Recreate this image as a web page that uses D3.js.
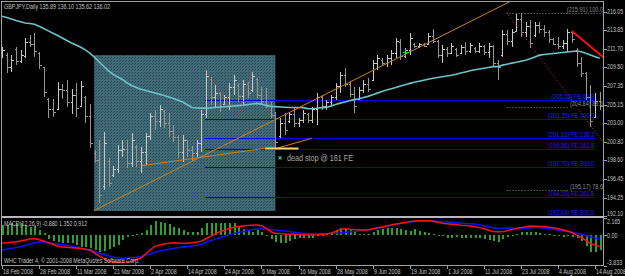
<!DOCTYPE html>
<html>
<head>
<meta charset="utf-8">
<script src="https://cdn.jsdelivr.net/npm/d3@7"></script>
<style>
  html, body { margin: 0; padding: 0; background: #000; }
  svg { display: block; }
  text { font-family: "Liberation Sans", Arial, sans-serif; }
</style>
</head>
<body>
<div id="chart"></div>
<script>
// GBPJPY daily bars, one per trading day from 18 Feb 2008
const opens = [
  211.2, 211.0, 209.6, 211.6, 210.2, 210.8, 212.5, 212.3, 211.2, 209.6,
  205.8, 204.6, 204.6, 207.0, 206.8, 205.5, 206.3, 205.0, 206.0, 203.8,
  199.5, 198.6, 195.6, 198.5, 196.9, 197.6, 199.8, 200.0, 198.3, 200.2,
  198.5, 199.6, 201.5, 203.8, 203.2, 204.4, 203.0, 202.0, 201.4, 199.6,
  201.0, 199.8, 199.5, 200.6, 204.0, 208.2, 206.0, 206.5, 205.2, 206.0,
  207.2, 207.5, 206.2, 207.6, 206.8, 208.2, 206.3, 205.6, 205.0, 203.9,
  201.5, 203.0, 203.2, 204.0, 203.0, 203.4, 204.0, 203.4, 204.6, 206.0,
  205.0, 205.4, 206.0, 207.3, 208.6, 207.6, 206.4, 205.8, 206.8, 207.6,
  208.0, 210.0, 210.4, 210.0, 210.6, 211.2, 212.5, 210.8, 211.5, 212.3,
  212.0, 212.2, 212.2, 213.2, 212.6, 211.0, 211.6, 211.2, 211.6, 211.2,
  211.9, 211.4, 211.8, 211.4, 212.0, 211.3, 212.0, 210.0, 210.9, 213.4,
  212.6, 213.8, 215.2, 213.6, 214.4, 213.3, 214.5, 214.0, 213.6, 212.8,
  212.3, 212.0, 212.4, 213.6, 211.5, 210.0, 208.8, 206.0, 203.7, 205.6
];
const highs = [
  211.9, 211.2, 211.0, 211.9, 211.5, 213.0, 213.3, 213.5, 211.3, 209.6,
  205.9, 205.8, 207.8, 207.6, 208.0, 207.0, 207.7, 207.9, 206.2, 205.2,
  199.8, 201.0, 201.9, 198.9, 198.0, 200.4, 201.0, 201.0, 201.8, 200.4,
  200.2, 201.8, 204.2, 204.5, 205.1, 204.5, 204.2, 202.8, 201.6, 201.6,
  201.0, 200.3, 201.0, 204.5, 209.2, 208.4, 207.5, 206.6, 206.3, 207.7,
  208.6, 207.7, 208.0, 207.8, 209.0, 208.3, 207.2, 207.1, 205.5, 204.3,
  203.6, 204.2, 204.3, 204.8, 203.6, 204.5, 204.2, 204.9, 206.5, 206.3,
  205.7, 206.3, 207.7, 209.0, 209.4, 207.8, 207.2, 207.2, 208.0, 208.3,
  210.4, 211.0, 210.6, 211.0, 211.5, 213.0, 212.8, 211.8, 213.5, 212.4,
  212.4, 212.4, 213.5, 214.0, 212.7, 212.1, 211.9, 212.4, 211.8, 212.1,
  212.5, 212.4, 211.9, 212.4, 212.1, 212.4, 212.1, 210.4, 213.9, 213.9,
  214.0, 215.8, 215.91, 214.8, 215.1, 214.8, 214.8, 214.5, 213.9, 213.0,
  213.1, 212.7, 214.0, 213.7, 211.8, 210.7, 209.0, 207.4, 206.5, 206.6
];
const lows = [
  210.6, 208.9, 209.0, 209.8, 210.0, 210.6, 211.9, 210.7, 209.3, 206.0,
  203.6, 203.7, 204.5, 205.8, 204.9, 204.1, 203.7, 204.9, 203.0, 200.1,
  198.3, 193.6, 195.2, 195.5, 196.7, 197.1, 199.0, 197.7, 197.8, 197.8,
  197.1, 198.1, 201.0, 202.2, 202.5, 202.4, 201.4, 200.8, 198.9, 198.4,
  199.0, 198.5, 199.0, 199.6, 203.6, 205.1, 204.8, 204.3, 205.1, 204.5,
  206.3, 205.5, 205.1, 205.9, 206.6, 205.9, 205.1, 204.8, 203.6, 200.1,
  201.2, 201.6, 203.0, 202.5, 202.5, 203.0, 203.0, 203.0, 202.8, 204.5,
  204.5, 204.9, 205.7, 206.5, 207.2, 206.0, 204.2, 205.7, 206.5, 206.6,
  208.0, 209.2, 209.8, 209.6, 209.8, 210.6, 210.4, 210.6, 211.0, 211.8,
  211.8, 211.9, 212.1, 212.4, 210.6, 210.0, 210.7, 211.2, 210.7, 211.2,
  211.0, 211.2, 211.2, 211.2, 211.0, 210.6, 209.6, 208.0, 210.7, 212.1,
  211.9, 213.7, 213.1, 213.1, 211.8, 213.1, 213.5, 213.1, 212.4, 212.1,
  211.6, 211.6, 211.3, 212.4, 209.6, 208.4, 205.7, 202.5, 203.6, 204.5
];
const closes = [
  211.5, 209.6, 210.4, 210.2, 211.0, 212.5, 212.3, 211.4, 209.8, 206.6,
  204.6, 204.3, 207.0, 206.8, 205.5, 206.3, 204.8, 207.3, 203.8, 200.6,
  198.6, 194.6, 200.7, 196.0, 197.6, 199.8, 200.0, 198.3, 201.0, 198.5,
  199.6, 201.5, 203.8, 203.2, 204.6, 203.0, 202.0, 201.4, 199.6, 201.0,
  199.8, 199.5, 200.6, 204.0, 208.5, 206.0, 206.5, 205.0, 206.0, 207.2,
  208.0, 206.2, 207.6, 206.5, 208.5, 206.3, 205.6, 205.0, 203.9, 200.8,
  203.0, 202.2, 204.0, 203.0, 203.4, 204.2, 203.4, 204.6, 206.0, 205.0,
  205.4, 206.0, 207.3, 208.6, 207.6, 206.4, 205.0, 206.8, 207.6, 207.0,
  210.0, 210.6, 210.0, 210.6, 211.2, 212.6, 210.8, 211.5, 213.0, 212.0,
  212.2, 212.0, 213.2, 212.6, 211.0, 211.6, 211.2, 212.0, 211.0, 211.9,
  211.4, 212.1, 211.4, 212.0, 211.3, 212.0, 210.0, 209.6, 213.4, 212.6,
  213.6, 215.2, 213.6, 214.4, 212.4, 214.5, 214.0, 213.6, 212.8, 212.3,
  212.0, 212.4, 213.6, 212.8, 210.0, 208.8, 206.0, 203.2, 205.6, 205.0
];
// moving average drawn on the price panel
const movingAvg = [
  215.50, 215.35, 215.18, 215.00, 214.85, 214.71, 214.64, 214.55, 214.32, 214.06,
  213.78, 213.51, 213.24, 212.95, 212.65, 212.37, 212.13, 211.87, 211.55, 211.14,
  210.67, 210.14, 209.61, 209.09, 208.68, 208.38, 208.09, 207.68, 207.39, 207.14,
  206.95, 206.80, 206.65, 206.51, 206.36, 206.21, 206.04, 205.87, 205.65, 205.44,
  205.13, 204.81, 204.74, 204.73, 204.73, 204.76, 204.81, 204.86, 204.90, 204.94,
  204.99, 205.03, 205.08, 205.14, 205.22, 205.29, 205.20, 205.07, 204.96, 204.91,
  204.87, 204.84, 204.80, 204.80, 204.81, 204.79, 204.68, 204.66, 204.72, 204.79,
  204.82, 204.99, 205.15, 205.32, 205.46, 205.60, 205.73, 205.83, 205.97, 206.11,
  206.30, 206.49, 206.67, 206.85, 207.00, 207.15, 207.32, 207.47, 207.63, 207.76,
  207.88, 208.00, 208.11, 208.23, 208.32, 208.41, 208.50, 208.59, 208.70, 208.84,
  208.97, 209.11, 209.23, 209.32, 209.41, 209.50, 209.59, 209.59, 209.77, 209.88,
  210.00, 210.10, 210.22, 210.34, 210.51, 210.73, 210.94, 211.02, 211.08, 211.14,
  211.19, 211.25, 211.31, 211.37, 211.43, 211.33, 211.16, 210.96, 210.76, 210.57
];
// MACD sub window
const macdHist = [
  1.22, 1.22, 1.44, 1.5, 1.44, 1.22, 1.0, 1.1, 0.6, 0.2,
  -0.57, -0.75, -0.86, -0.97, -1.06, -0.97, -1.25, -1.49, -1.49, -1.7,
  -1.9, -2.11, -2.0, -1.8, -1.49, -1.25, -0.65, -0.3, -0.05, 0.1,
  0.2, 0.6, 1.22, 1.76, 1.65, 1.5, 1.3, 1.0, 0.8, 0.6,
  0.4, 0.4, 0.4, 0.8, 1.44, 1.5, 1.5, 1.44, 1.5, 1.44,
  1.5, 1.0, 0.7, 0.6, 0.4, 0.6, 0.4, 0.0, -0.57, -0.86,
  -0.97, -0.97, -0.75, -0.57, -0.45, -0.45, -0.45, -0.35, -0.1, 0.0,
  0.1, 0.4, 0.6, 0.8, 0.9, 0.6, 0.4, 0.15, 0.15, 0.15,
  0.4, 0.6, 0.7, 0.8, 0.9, 0.8, 0.7, 0.6, 0.5, 0.7,
  0.5, 0.4, 0.25, 0.15, -0.1, -0.2, -0.35, -0.35, -0.3, -0.35,
  -0.35, -0.45, -0.35, -0.45, -0.55, -0.65, -0.75, -0.86, -0.57, -0.3,
  -0.1, 0.05, 0.3, 0.4, 0.3, 0.3, 0.25, 0.15, 0.15, -0.1,
  -0.2, -0.3, -0.2, -0.3, -0.45, -0.75, -1.4, -2.1, -2.2, -1.9
];
const macdRed = [
  -1.04, -0.98, -0.92, -0.86, -0.76, -0.65, -0.52, -0.45, -0.62, -0.76,
  -0.98, -1.2, -1.41, -1.51, -1.56, -1.6, -1.65, -1.7, -1.8, -1.9,
  -2.29, -2.67, -2.97, -3.28, -3.4, -3.46, -3.46, -3.4, -3.3, -3.09,
  -2.9, -2.4, -1.86, -1.44, -1.27, -1.14, -1.06, -0.99, -1.01, -1.04,
  -1.06, -0.99, -0.91, -0.79, -0.49, -0.19, 0.12, 0.38, 0.58, 0.76,
  0.95, 1.03, 1.1, 1.18, 1.21, 1.23, 1.14, 0.83, 0.38, 0.21,
  0.15, 0.11, 0.08, 0.06, 0.04, 0.01, -0.01, -0.01, 0.01, 0.06,
  0.1, 0.2, 0.41, 0.66, 0.79, 0.7, 0.66, 0.64, 0.61, 0.61,
  0.75, 0.89, 0.98, 1.1, 1.23, 1.35, 1.44, 1.54, 1.65, 1.74,
  1.76, 1.76, 1.76, 1.7, 1.56, 1.46, 1.39, 1.33, 1.28, 1.21,
  1.16, 1.1, 1.04, 0.93, 0.75, 0.58, 0.4, 0.39, 0.39, 0.5,
  0.65, 0.8, 0.9, 1.0, 1.1, 1.08, 1.05, 1.03, 0.95, 0.88,
  0.76, 0.63, 0.48, 0.29, -0.03, -0.33, -0.69, -1.09, -1.28, -1.46
];
const macdBlue = [
  -1.89, -1.8, -1.7, -1.6, -1.48, -1.33, -1.18, -1.03, -0.89, -0.91,
  -0.99, -1.08, -1.16, -1.24, -1.29, -1.4, -1.53, -1.64, -1.79, -1.95,
  -2.12, -2.3, -2.45, -2.62, -2.81, -2.88, -2.92, -2.92, -2.88, -2.81,
  -2.72, -2.56, -2.4, -2.21, -2.06, -1.92, -1.81, -1.71, -1.61, -1.51,
  -1.46, -1.4, -1.31, -1.18, -0.96, -0.75, -0.54, -0.36, -0.19, -0.01,
  0.18, 0.29, 0.4, 0.51, 0.64, 0.74, 0.8, 0.76, 0.66, 0.59,
  0.54, 0.48, 0.4, 0.33, 0.25, 0.19, 0.15, 0.12, 0.1, 0.12,
  0.15, 0.19, 0.21, 0.25, 0.3, 0.38, 0.43, 0.48, 0.54, 0.6,
  0.7, 0.83, 0.94, 1.06, 1.19, 1.3, 1.43, 1.51, 1.59, 1.65,
  1.7, 1.74, 1.76, 1.74, 1.69, 1.64, 1.6, 1.56, 1.51, 1.46,
  1.43, 1.39, 1.35, 1.25, 1.13, 1.0, 0.88, 0.8, 0.81, 0.81,
  0.81, 0.81, 0.81, 0.85, 0.89, 0.93, 0.93, 0.86, 0.78, 0.69,
  0.6, 0.5, 0.4, 0.3, 0.21, 0.08, -0.09, -0.25, -0.4, -0.55
];

// axis labels
const dateLabels = ["18 Feb 2008", "28 Feb 2008", "11 Mar 2008", "21 Mar 2008", "2 Apr 2008",
  "14 Apr 2008", "24 Apr 2008", "6 May 2008", "16 May 2008", "28 May 2008", "9 Jun 2008",
  "19 Jun 2008", "1 Jul 2008", "11 Jul 2008", "23 Jul 2008", "4 Aug 2008", "14 Aug 2008"];
const dateStep = 8; // one label every 8 bars
const priceTicks = ["216.05", "213.85", "211.70", "209.50", "207.35", "205.15",
  "203.00", "200.80", "198.60", "196.45", "194.25", "192.10"];
const macdTicks = ["2.165", "0.00", "-3.833"];

// drawn objects (bar index, price)
const feLevels = [205.52, 203.35, 201.15, 199.86, 197.70, 194.20, 192.04];
const feRatios = ["61.8", "100.0", "138.2", "161.8", "200.0", "261.8", "300.0"];
const feSpan = [43.8, 127.8];
const retLevels = [215.91, 204.84, 195.17];
const retRatios = ["100.0", "88.6", "78.6"];
const retStart = 108.9;
const zoneBox = { i0: 19.9, i1: 59.0, top: 210.94, bottom: 192.69 };
const orangeLines = [
  [[19.9, 192.74], [109.6, 217.2]],
  [[30.15, 197.99], [56.8, 200.03]],
  [[59.3, 200.03], [66.85, 201.2]]
];
const stopSegment = [[56.8, 200.01], [64.0, 200.01]];
const redZigzag = [[44.0, 209.2], [51.0, 203.55], [54.1, 209.2]];
const redTrend = [[122.97, 213.77], [129.8, 210.69]];
const fibDiagonal = [[108.9, 215.91], [129.5, 200.89]];
const greenMark = [87.1, 211.25];
const stopMark = [60.0, 198.9];

const width = 625, height = 276;
const frameL = 1.5, frameR = 603.5, frameT = 1.5, sepY = 215.5, frameB = 265.5;

const svg = d3.select("#chart").append("svg")
  .attr("width", width).attr("height", height);

svg.append("rect").attr("width", width).attr("height", height).attr("fill", "#000");

const x = d3.scaleLinear().domain([0, 129]).range([2, 599.7]);
const y = d3.scaleLinear().domain([192.10, 216.05]).range([216, 11.5]);
const ym = d3.scaleLinear().domain([-3.833, 2.165]).range([265.5, 217.5]);

// small MT4-like text, squeezed horizontally like the screenshot
function label(g, px, py, s, size, color, anchor, sx) {
  return g.append("text")
    .attr("transform", `translate(${px},${py}) scale(${sx || 0.82},1)`)
    .attr("text-anchor", anchor || "start")
    .attr("font-size", size)
    .attr("fill", color)
    .text(s);
}

const defs = svg.append("defs");
defs.append("clipPath").attr("id", "mainClip")
  .append("rect").attr("x", 2).attr("y", 2).attr("width", 601).attr("height", 213);
defs.append("clipPath").attr("id", "macdClip")
  .append("rect").attr("x", 2).attr("y", 217.5).attr("width", 601).attr("height", 48);

const pat = defs.append("pattern").attr("id", "boxFill")
  .attr("width", 3).attr("height", 3).attr("patternUnits", "userSpaceOnUse");
pat.append("rect").attr("width", 3).attr("height", 3).attr("fill", "#416b78");
pat.append("rect").attr("x", 0).attr("y", 0).attr("width", 1).attr("height", 1).attr("fill", "#27444d");
pat.append("rect").attr("x", 2).attr("y", 1).attr("width", 1).attr("height", 1).attr("fill", "#2c4c56");

const main = svg.append("g").attr("clip-path", "url(#mainClip)");

// shaded zone
main.append("rect")
  .attr("x", x(zoneBox.i0)).attr("y", y(zoneBox.top))
  .attr("width", x(zoneBox.i1) - x(zoneBox.i0))
  .attr("height", y(zoneBox.bottom) - y(zoneBox.top))
  .attr("fill", "url(#boxFill)");

// fibo expansion levels
feLevels.forEach(p => {
  const yy = Math.round(y(p)) - 0.5;
  main.append("line")
    .attr("x1", x(feSpan[0])).attr("x2", x(feSpan[1]))
    .attr("y1", yy).attr("y2", yy)
    .attr("stroke", "#0000e8").attr("stroke-width", 1);
});

// fibo retracement dotted levels
retLevels.forEach((p, k) => {
  const yy = Math.round(y(p)) + 0.5;
  main.append("line")
    .attr("x1", x(retStart)).attr("x2", k === 0 ? 603 : x(122.5))
    .attr("y1", yy).attr("y2", yy)
    .attr("stroke", "#8a8a8a").attr("stroke-dasharray", "1,2");
});

// OHLC bars
const bars = main.append("g").attr("shape-rendering", "crispEdges");
opens.forEach((o, i) => {
  const bx = Math.round(x(i)) + 0.5;
  const path = `M${bx},${y(highs[i])}V${y(lows[i])}` +
    `M${bx - 2},${Math.round(y(o)) + 0.5}H${bx}` +
    `M${bx},${Math.round(y(closes[i])) + 0.5}H${bx + 2}`;
  bars.append("path")
    .attr("d", path)
    .attr("fill", "none")
    .attr("stroke", closes[i] >= o ? "#c8c8c8" : "#969696")
    .attr("stroke-width", 1);
});

// moving average
main.append("path")
  .datum(movingAvg)
  .attr("fill", "none")
  .attr("stroke", "#6cc3ca")
  .attr("stroke-width", 1.6)
  .attr("d", d3.line().x((d, i) => x(i)).y(d => y(d)));

// trend lines
const seg = d3.line().x(d => x(d[0])).y(d => y(d[1]));
orangeLines.forEach(l => {
  main.append("path").attr("d", seg(l)).attr("fill", "none")
    .attr("stroke", "#d0801e").attr("stroke-width", 1);
});
main.append("path").attr("d", seg(stopSegment)).attr("fill", "none")
  .attr("stroke", "#ffd27a").attr("stroke-width", 2);
main.append("path").attr("d", seg(redZigzag)).attr("fill", "none")
  .attr("stroke", "#e03030").attr("stroke-width", 1).attr("stroke-dasharray", "1,2");
main.append("path").attr("d", seg(fibDiagonal)).attr("fill", "none")
  .attr("stroke", "#b8306a").attr("stroke-width", 1).attr("stroke-dasharray", "1,2");
main.append("path").attr("d", seg(redTrend)).attr("fill", "none")
  .attr("stroke", "#ff1010").attr("stroke-width", 2);

// markers
const gx = x(greenMark[0]), gy = y(greenMark[1]);
main.append("path")
  .attr("d", `M${gx - 3},${gy}H${gx + 3}M${gx},${gy - 4}V${gy + 4}`)
  .attr("stroke", "#20e020").attr("stroke-width", 1);
const sx = x(stopMark[0]), sy = y(stopMark[1]);
main.append("path")
  .attr("d", `M${sx - 1.5},${sy - 1.5}L${sx + 1.5},${sy + 1.5}M${sx - 1.5},${sy + 1.5}L${sx + 1.5},${sy - 1.5}`)
  .attr("stroke", "#40c0b0").attr("stroke-width", 1.2);
label(main, sx + 7, sy + 3, "dead stop @ 161 FE", 9, "#a8a8a8", "start", 0.8);

// level labels
feLevels.forEach((p, k) => {
  label(main, x(feSpan[1]), Math.round(y(p)) - 2, `(${p.toFixed(2)}) FE ${feRatios[k]}`, 7, "#2020ff", "end");
});
retLevels.forEach((p, k) => {
  label(main, 603, Math.round(y(p)) - 0.8, `(${p.toFixed(2)}) ${retRatios[k]}`, 6.8, "#8a8a8a", "end");
});

// MACD window
const macd = svg.append("g").attr("clip-path", "url(#macdClip)");
macd.append("g").attr("shape-rendering", "crispEdges")
  .selectAll("rect").data(macdHist).enter().append("rect")
  .attr("x", (d, i) => Math.round(x(i)) - 0.5)
  .attr("width", 2)
  .attr("y", d => Math.min(ym(d), ym(0)))
  .attr("height", d => Math.max(1, Math.abs(ym(d) - ym(0))))
  .attr("fill", "#2fa02f");
const macdLine = d3.line().x((d, i) => x(i)).y(d => ym(d));
macd.append("path").datum(macdBlue).attr("d", macdLine)
  .attr("fill", "none").attr("stroke", "#1010ff").attr("stroke-width", 1.5);
macd.append("path").datum(macdRed).attr("d", macdLine)
  .attr("fill", "none").attr("stroke", "#ff1010").attr("stroke-width", 1.5);

// frame
const frame = svg.append("g").attr("shape-rendering", "crispEdges");
frame.append("rect")
  .attr("x", frameL).attr("y", frameT)
  .attr("width", frameR - frameL).attr("height", frameB - frameT)
  .attr("fill", "none").attr("stroke", "#a0a0a0");
frame.append("rect")
  .attr("x", frameL).attr("y", sepY)
  .attr("width", frameR - frameL).attr("height", 2)
  .attr("fill", "#b8b8bc");

// price axis
priceTicks.forEach(t => {
  const yy = Math.round(y(+t)) + 0.5;
  frame.append("line").attr("x1", frameR).attr("x2", frameR + 3)
    .attr("y1", yy).attr("y2", yy).attr("stroke", "#a0a0a0");
  label(svg, 607, Math.min(yy + 1.8, 216), t, 6.5, "#c0c0c0");
});

// MACD axis
const macdOffsets = [5.2, 2.3, -1.2];
macdTicks.forEach((t, k) => {
  const yy = Math.round(ym(+t)) + 0.5;
  frame.append("line").attr("x1", frameR).attr("x2", frameR + 3)
    .attr("y1", yy).attr("y2", yy).attr("stroke", "#a0a0a0");
  label(svg, 607, yy + macdOffsets[k], t, 6.5, "#c0c0c0");
});

// time axis
dateLabels.forEach((d, k) => {
  const tx = Math.round(x(k * dateStep)) + 0.5;
  frame.append("line").attr("x1", tx).attr("x2", tx)
    .attr("y1", frameB).attr("y2", frameB + 3).attr("stroke", "#a0a0a0");
  label(svg, tx + 0.5, 273.5, d, 6.5, "#c0c0c0");
});

// captions
label(svg, 4, 9, "GBPJPY,Daily  135.89 136.10 135.62 136.02", 6.6, "#c0c0c0");
label(svg, 4, 225.5, "MACD(12,26,9) -0.880 1.352 0.912", 6.5, "#c0c0c0");
label(svg, 4, 263.3, "WHC Trader 4, \u00a9 2001-2008 MetaQuotes Software Corp.", 6.5, "#c0c0c0");
</script>
</body>
</html>
